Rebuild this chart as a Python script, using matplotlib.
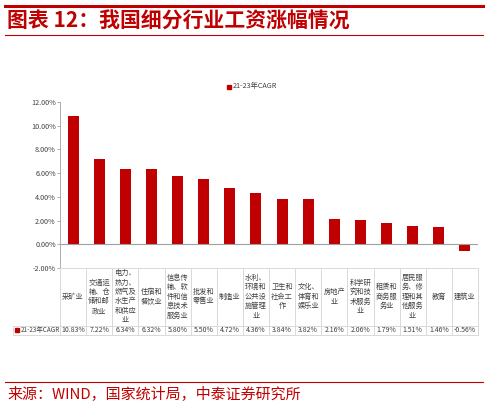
import matplotlib
matplotlib.use("Agg")
import matplotlib.pyplot as plt
from matplotlib.lines import Line2D
from matplotlib.patches import Rectangle

plt.rcParams['font.family'] = ['Noto Sans CJK SC', 'DejaVu Sans']

categories = ["采矿业", "交通运\n输、仓\n储和邮\n政业", "电力、\n热力、\n燃气及\n水生产\n和供应\n业",
              "住宿和\n餐饮业", "信息传\n输、软\n件和信\n息技术\n服务业", "批发和\n零售业", "制造业",
              "水利、\n环境和\n公共设\n施管理\n业", "卫生和\n社会工\n作", "文化、\n体育和\n娱乐业",
              "房地产\n业", "科学研\n究和技\n术服务\n业", "租赁和\n商务服\n务业",
              "居民服\n务、修\n理和其\n他服务\n业", "教育", "建筑业"]
cagr = [10.83, 7.22, 6.34, 6.32, 5.80, 5.50, 4.72, 4.36, 3.84, 3.82, 2.16, 2.06, 1.79, 1.51, 1.46, -0.56]
series_name = "21-23年CAGR"
yticks = [-2, 0, 2, 4, 6, 8, 10, 12]

RED = "#C00000"
GRID = "#D9D9D9"
W, H = 488, 405

fig = plt.figure(figsize=(4.88, 4.05), dpi=100)

def fy(py):
    return 1 - py / H

def fx(px):
    return px / W

ax = fig.add_axes([fx(60), fy(268), fx(478) - fx(60), fy(102) - fy(268)])
x = list(range(len(cagr)))
ax.bar(x, cagr, width=0.42, color=RED, zorder=3)
ax.set_xlim(-0.5, len(cagr) - 0.5)
ax.set_ylim(-2, 12)
ax.set_yticks(yticks)
ax.set_yticklabels([f"{v:.2f}%" for v in yticks], fontsize=5.2, color="#404040")
ax.set_xticks([])
ax.tick_params(axis="y", length=2, width=0.6, color="#A0A0A0", pad=1)
for s in ["top", "right", "bottom"]:
    ax.spines[s].set_visible(False)
ax.spines["left"].set_color("#A0A0A0")
ax.spines["left"].set_linewidth(0.6)
ax.axhline(0, color="#A0A0A0", lw=0.8, zorder=4)

# legend
fig.patches.append(Rectangle((fx(227), fy(89)), fx(4), 4 / H, transform=fig.transFigure,
                             color=RED))
fig.text(fx(233), fy(86), series_name, fontsize=5.2, color="#404040", va="center", ha="left")

# data table under the axis
top, mid, bot = 268, 325.5, 334.5
left_tab = 13
col_w = (478 - 60) / len(cagr)
for yy in [top, mid, bot]:
    x0 = 60 if yy == top else left_tab
    fig.lines.append(Line2D([fx(x0), fx(478)], [fy(yy), fy(yy)], transform=fig.transFigure,
                            color=GRID, lw=0.7))
for i in range(len(cagr) + 1):
    xx = 60 + i * col_w
    fig.lines.append(Line2D([fx(xx), fx(xx)], [fy(top), fy(bot)], transform=fig.transFigure,
                            color=GRID, lw=0.7))
fig.lines.append(Line2D([fx(left_tab), fx(left_tab)], [fy(mid), fy(bot)], transform=fig.transFigure,
                        color=GRID, lw=0.7))

for i, (c, v) in enumerate(zip(categories, cagr)):
    cx = 60 + (i + 0.5) * col_w
    fig.text(fx(cx), fy((top + mid) / 2), c, fontsize=5.2, color="#404040",
             ha="center", va="center", linespacing=1.25)
    fig.text(fx(cx), fy((mid + bot) / 2), f"{v:.2f}%", fontsize=5.0, color="#404040",
             ha="center", va="center")

fig.patches.append(Rectangle((fx(15), fy(332)), fx(4), 4 / H, transform=fig.transFigure, color=RED))
fig.text(fx(20.5), fy((mid + bot) / 2), series_name, fontsize=4.6, color="#404040",
         ha="left", va="center")

# title block
fig.lines.append(Line2D([fx(5), fx(483)], [fy(6), fy(6)], transform=fig.transFigure, color=RED, lw=2.2))
fig.lines.append(Line2D([fx(5), fx(483)], [fy(35), fy(35)], transform=fig.transFigure, color=RED, lw=0.8))
fig.text(fx(7), fy(21), "图表 12：我国细分行业工资涨幅情况", fontsize=15, color=RED,
         fontweight="bold", style="italic", ha="left", va="center")

# source
fig.lines.append(Line2D([fx(5), fx(483)], [fy(382), fy(382)], transform=fig.transFigure, color=RED, lw=0.8))
fig.text(fx(7), fy(393.5), "来源：WIND，国家统计局，中泰证券研究所", fontsize=10.8, color=RED,
         ha="left", va="center")

fig.savefig("out.png", dpi=100)
